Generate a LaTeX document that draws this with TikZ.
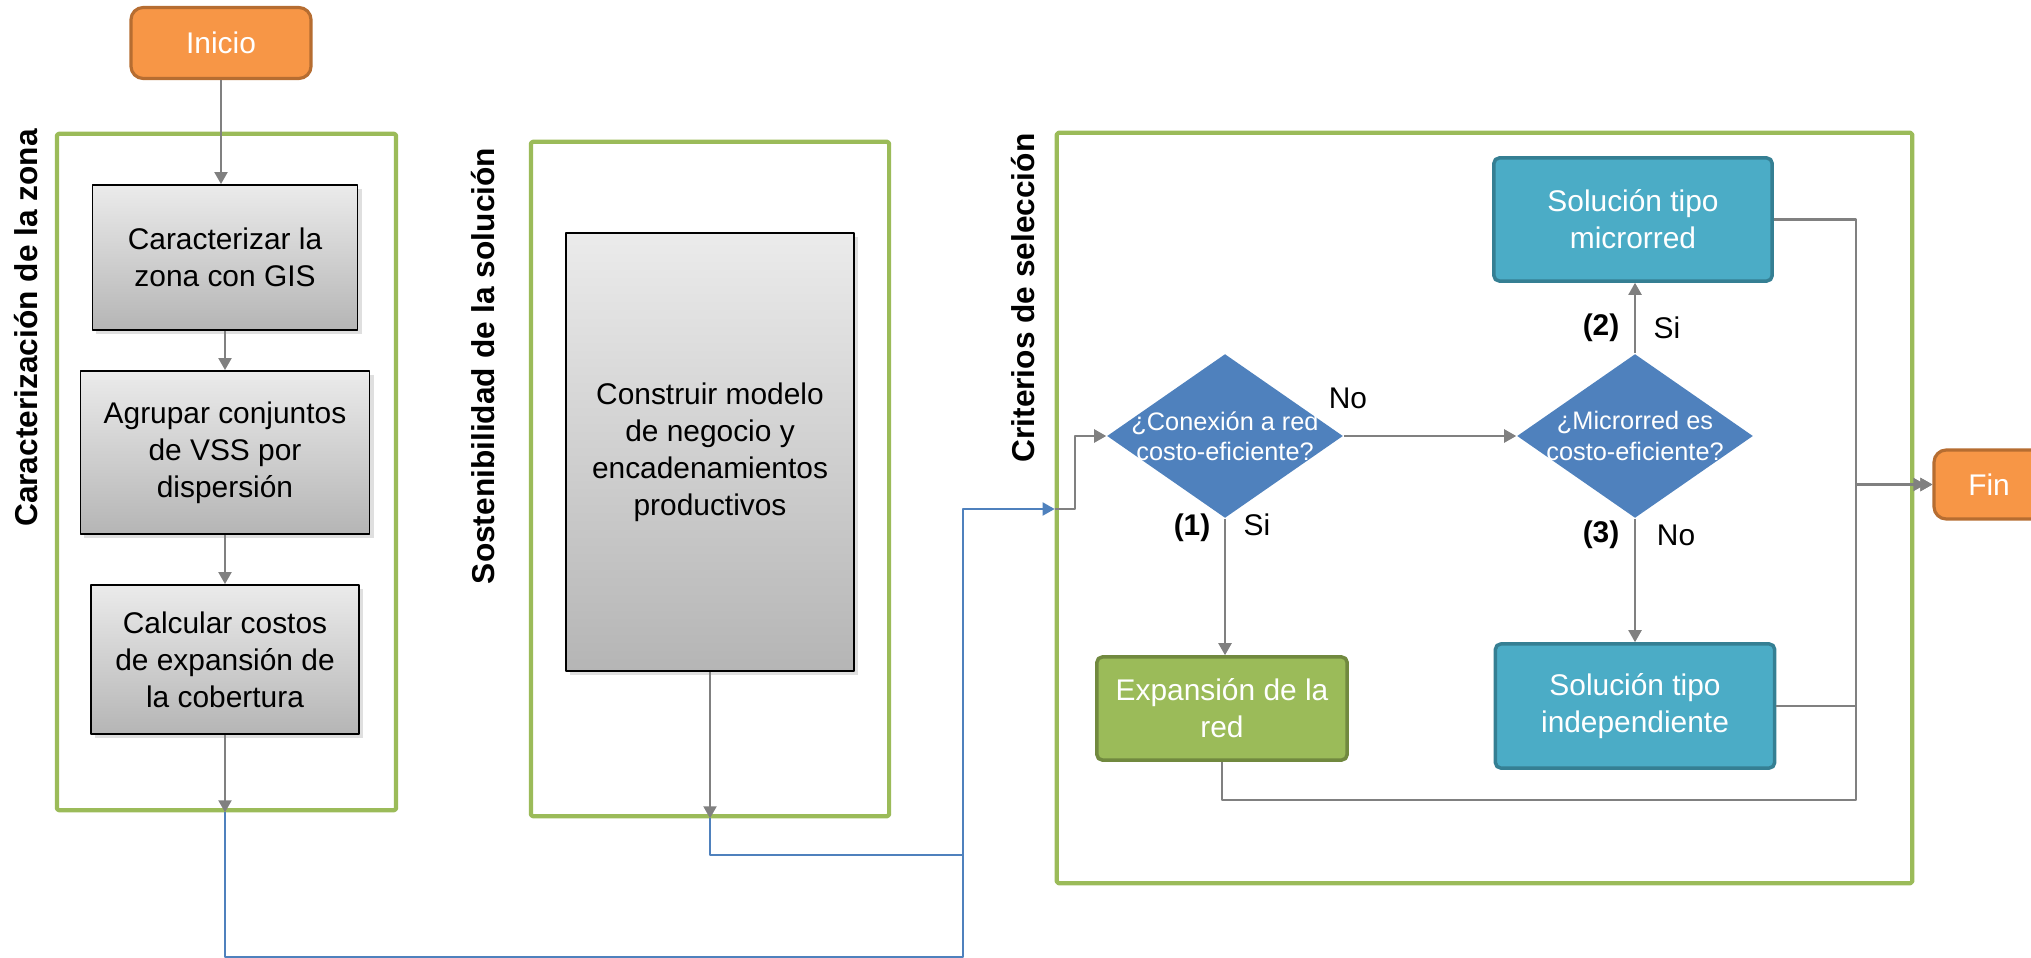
\documentclass[tikz,border=0pt]{standalone}
\usepackage{fontspec}
\setmainfont{Liberation Sans}
\usetikzlibrary{shapes.geometric,arrows.meta,shadows}
\definecolor{naranja}{HTML}{F79646}
\definecolor{naranjaosc}{HTML}{B66D31}
\definecolor{verde}{HTML}{9BBB59}
\definecolor{verdeosc}{HTML}{71893F}
\definecolor{azul}{HTML}{4F81BD}
\definecolor{turquesa}{HTML}{4BACC6}
\definecolor{turquesaosc}{HTML}{357F93}
\definecolor{gris}{HTML}{808080}
\definecolor{grisA}{HTML}{EBEBEB}
\definecolor{grisB}{HTML}{B5B5B5}
\begin{document}
\begin{tikzpicture}[x=0.01cm, y=-0.01cm, line join=round, font=\fontsize{8.5}{10.5}\selectfont, >={Triangle[width=1.3mm,length=1.2mm]}]
	\tikzset{
		inicio/.style={draw=naranjaosc, fill=naranja, line width=0.9pt, rounded corners=3.5pt, text=white, minimum width=1.8cm, minimum height=0.71cm},
		caja/.style 2 args={draw=black, line width=0.5pt, top color=grisA, bottom color=grisB, align=center, minimum width=#1, minimum height=#2, drop shadow={opacity=0.25, shadow xshift=0.4mm, shadow yshift=-0.4mm}},
		marco/.style 2 args={draw=verde, line width=1.2pt, rounded corners=0.5pt, minimum width=#1, minimum height=#2},
		titulo/.style={rotate=90, font=\fontsize{9}{11}\selectfont\bfseries},
		sol/.style={fill=turquesa, draw=turquesaosc, line width=1pt, rounded corners=1.5pt, text=white, align=center},
		decision/.style={diamond, fill=azul, inner sep=0pt, minimum width=2.36cm, minimum height=1.64cm},
		dtexto/.style={text=white, align=center, font=\fontsize{7.2}{8.6}\selectfont},
		flecha/.style={draw=gris, line width=0.6pt},
		azulin/.style={draw=azul, line width=0.6pt},
		etiq/.style={font=\fontsize{8.5}{10.5}\selectfont\bfseries}
	}
	\useasboundingbox (0,0) rectangle (2031,958);
	\clip (0,0) rectangle (2031,958);
	\node[inicio] (inicio) at (221,43) {Inicio};
	\node[marco={3.39cm}{6.76cm}] (zona) at (226.5,472) {};
	\node[titulo] (tzona) at (26,328) {Caracterización de la zona};
	\node[caja={2.65cm}{1.45cm}] (gis) at (225,257.5) {Caracterizar la\\zona con GIS};
	\node[caja={2.89cm}{1.63cm}] (vss) at (225,452.5) {Agrupar conjuntos\\de VSS por\\dispersión};
	\node[caja={2.68cm}{1.49cm}] (costos) at (225,659.5) {Calcular costos\\de expansión de\\la cobertura};
	\node[marco={3.58cm}{6.74cm}] (sost) at (710,479) {};
	\node[titulo] (tsost) at (483,366) {Sostenibilidad de la solución};
	\node[caja={2.88cm}{4.38cm}] (modelo) at (710,452) {Construir modelo\\de negocio y\\encadenamientos\\productivos};
	\node[marco={8.55cm}{7.50cm}] (crit) at (1484.5,508) {};
	\node[titulo] (tcrit) at (1023,298) {Criterios de selección};
	\node[decision, label={[dtexto]center:{¿Conexión a red\\costo-eficiente?}}] (con) at (1225,436) {};
	\node[decision, label={[dtexto]center:{¿Microrred es\\costo-eficiente?}}] (mic) at (1635,436) {};
	\node[sol, minimum width=2.78cm, minimum height=1.23cm] (micro) at (1633,219.5) {Solución tipo\\microrred};
	\node[sol, minimum width=2.79cm, minimum height=1.24cm] (indep) at (1635,706) {Solución tipo\\independiente};
	\node[sol, fill=verde, draw=verdeosc, minimum width=2.5cm, minimum height=1.03cm] (exp) at (1222,708.5) {Expansión de la\\red};
	\node[inicio, minimum width=1.1cm, minimum height=0.69cm] (fin) at (1989,484.5) {Fin};
	\coordinate (bj) at (963,957);
	\coordinate (bk) at (963,509);
	\coordinate (bm) at (963,855);
	\coordinate (jn) at (1856,484.5);
	\coordinate (jb) at (1856,800);
	\draw[flecha,->] (inicio.south) -- (inicio.south |- gis.north);
	\draw[flecha,->] (gis) -- (vss);
	\draw[flecha,->] (vss) -- (costos);
	\draw[flecha,->] (costos.south) -- (costos.south |- zona.south);
	\draw[flecha,->] (modelo.south) -- (modelo.south |- sost.south);
	\draw[azulin,->] (costos.south |- zona.south) |- (bj) -- (bk) -- (bk -| crit.west);
	\draw[azulin] (modelo.south |- sost.south) |- (bm);
	\draw[flecha,->] (bk -| crit.west) -- ++(20,0) |- (con.west);
	\draw[flecha,->] (con.east) -- (mic.west);
	\draw[flecha,->] (con.south) -- (con.south |- exp.north);
	\draw[flecha,->] (mic.north) -- (mic.north |- micro.south);
	\draw[flecha,->] (mic.south) -- (mic.south |- indep.north);
	\draw[flecha,->] (micro.east) -| (jn) -- (fin.west);
	\draw[flecha,->] (indep.east) -| (jn) -- ([xshift=-0.07cm]fin.west);
	\draw[flecha,->] (exp.south) |- (jb) -- (jn) -- (fin.west);
	\node (no1) at (1348,398) {No};
	\node[etiq] (n1) at (1192,528) {(1)};
	\node (si1) at (1257,525) {Si};
	\node[etiq] (n2) at (1601,328) {(2)};
	\node (si2) at (1667,328) {Si};
	\node[etiq] (n3) at (1601,535) {(3)};
	\node (no2) at (1676,535) {No};
\end{tikzpicture}
\end{document}
